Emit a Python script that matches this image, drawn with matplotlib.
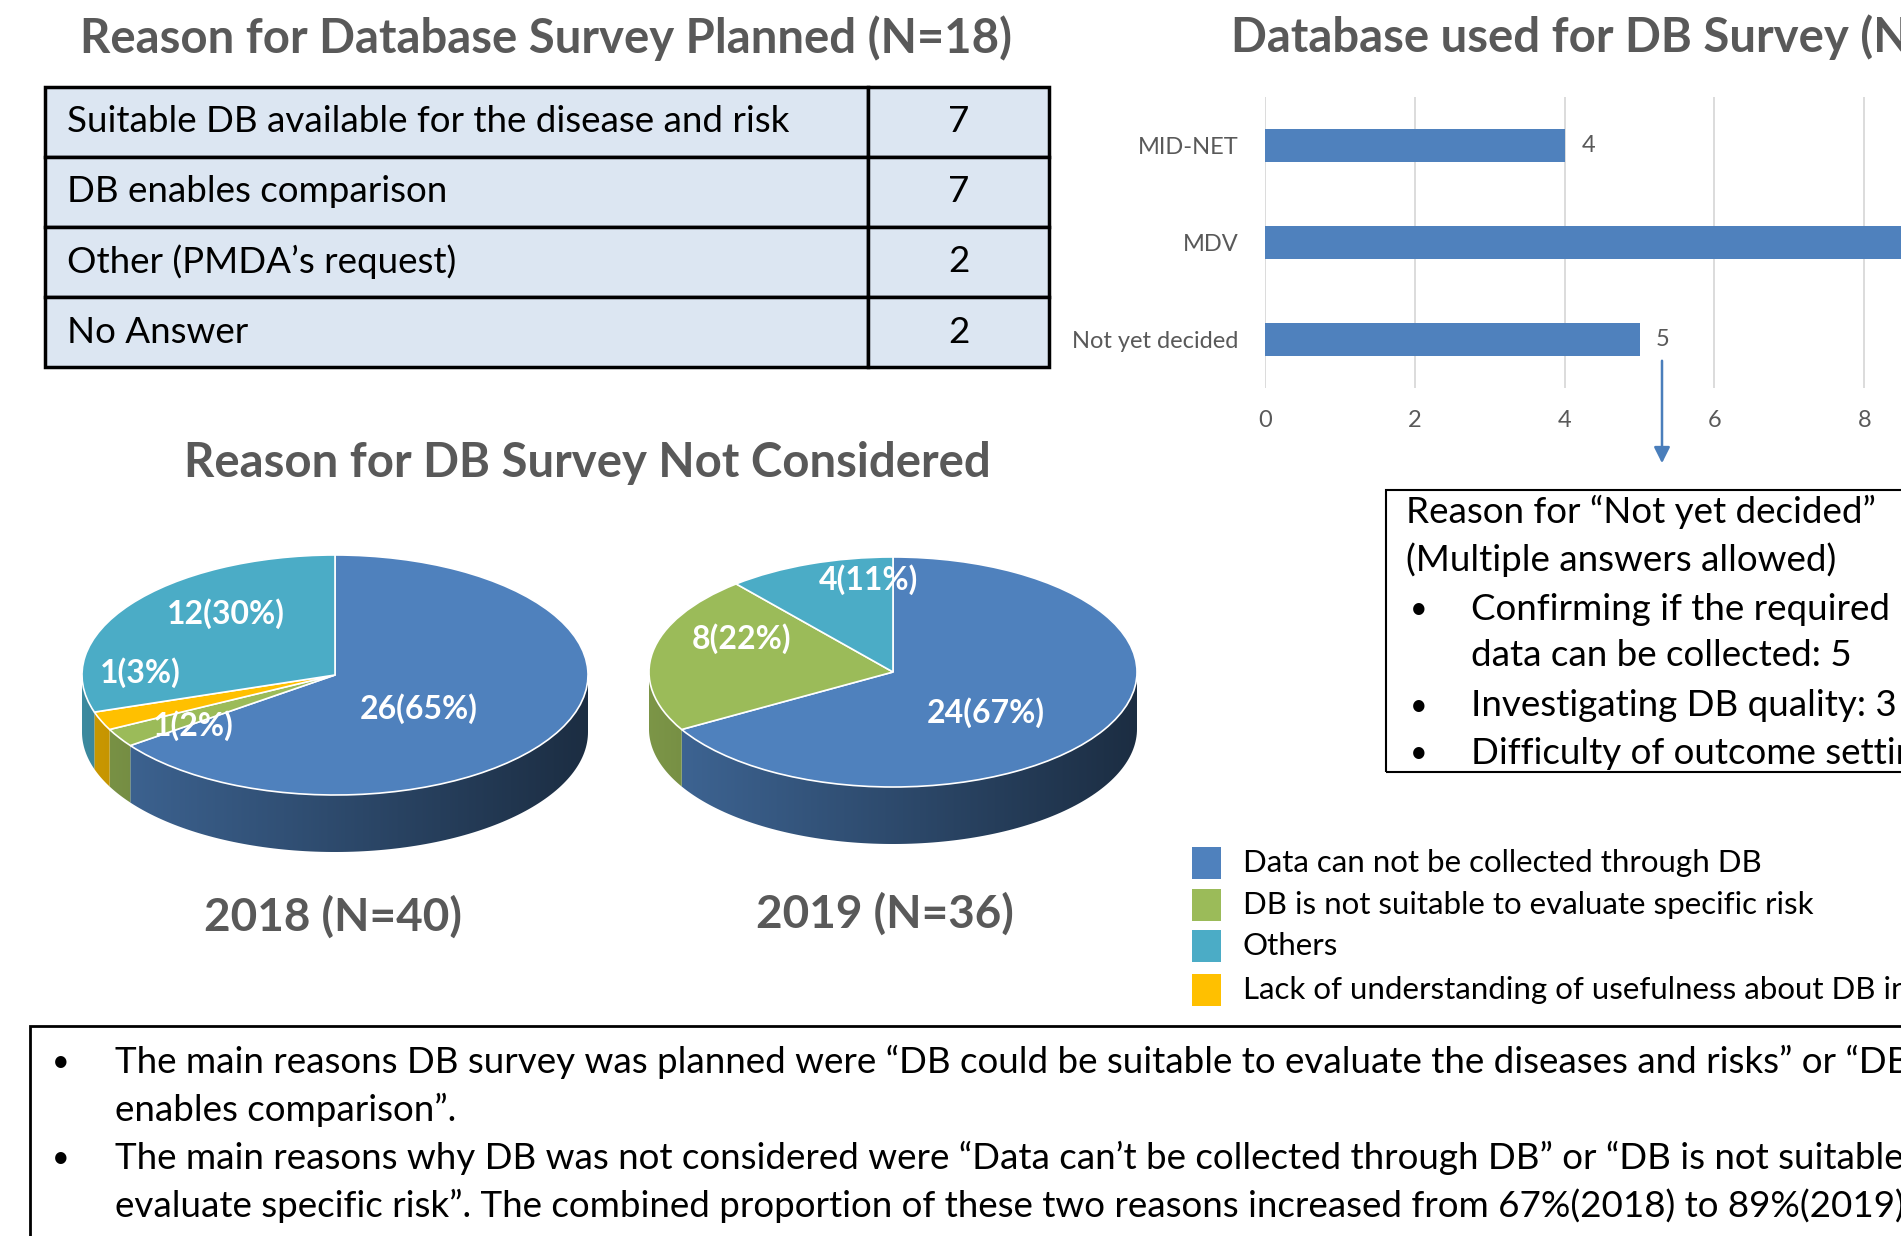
import numpy as np
import matplotlib
matplotlib.use("Agg")
import matplotlib.pyplot as plt
from matplotlib.patches import Rectangle, Polygon
from matplotlib.colors import to_rgb

plt.rcParams['font.family'] = ['Lato', 'DejaVu Sans']

###############################################################################
# Data

plan_reasons = ["Suitable DB available for the disease and risk",
                "DB enables comparison",
                "Other (PMDA’s request)",
                "No Answer"]
plan_counts = [7, 7, 2, 2]

db_names = ["MID-NET", "MDV", "Not yet decided"]
db_counts = [4, 9, 5]
db_ticks = [0, 2, 4, 6, 8, 10]

reasons = ["Data can not be collected through DB",
           "DB is not suitable to evaluate specific risk",
           "Others",
           "Lack of understanding of usefulness about DB investigation"]
BLUE, GREEN, TEAL, GOLD = "#4F81BD", "#9BBB59", "#4BACC6", "#FFC000"
reason_colors = [BLUE, GREEN, TEAL, GOLD]

# slices in clockwise order starting at 12 o'clock
pie18_counts = [26, 1, 1, 12]
pie18_pcts = [65, 2, 3, 30]
pie18_colors = [BLUE, GREEN, GOLD, TEAL]
pie19_counts = [24, 8, 4]
pie19_pcts = [67, 22, 11]
pie19_colors = [BLUE, GREEN, TEAL]

box_head = ["Reason for “Not yet decided”", "(Multiple answers allowed)"]
box_lines = ["Confirming if the required", "data can be collected: 5",
             "Investigating DB quality: 3", "Difficulty of outcome setting"]
box_bullet = [True, False, True, True]

summary = ["The main reasons DB survey was planned were “DB could be suitable to evaluate the diseases and risks” or “DB",
           "enables comparison”.",
           "The main reasons why DB was not considered were “Data can’t be collected through DB” or “DB is not suitable to",
           "evaluate specific risk”. The combined proportion of these two reasons increased from 67%(2018) to 89%(2019)."]

###############################################################################
# Layout helpers (pixel coords, origin top-left)

W, H = 1901, 1236
fig = plt.figure(figsize=(W / 100, H / 100), dpi=100)
GREY = "#595959"


def fx(x):
    return x / W


def fy(y):
    return 1 - y / H


def axes_px(x0, y0, x1, y1):
    return fig.add_axes([x0 / W, 1 - y1 / H, (x1 - x0) / W, (y1 - y0) / H])


def ftext(x, y, s, **kw):
    kw.setdefault('va', 'center')
    return fig.text(fx(x), fy(y), s, **kw)


###############################################################################
# Table

ftext(546, 38, "Reason for Database Survey Planned (N=18)", ha='center',
      fontsize=34, fontweight='bold', color=GREY)

tab = axes_px(45, 87, 1049, 367)
tab.set_xlim(0, 1)
tab.set_ylim(len(plan_reasons), 0)
tab.axis('off')
split = 0.82
for i, (r, c) in enumerate(zip(plan_reasons, plan_counts)):
    for x0, w in ((0, split), (split, 1 - split)):
        tab.add_patch(Rectangle((x0, i), w, 1, facecolor='#DCE6F2',
                                edgecolor='black', lw=2.5, clip_on=False))
    tab.text(0.022, i + 0.5, r, va='center', fontsize=26.5)
    tab.text((1 + split) / 2, i + 0.5, str(c), ha='center', va='center', fontsize=26.5)

###############################################################################
# Bar chart

ftext(1231, 37, "Database used for DB Survey (N=18)", ha='left',
      fontsize=34, fontweight='bold', color=GREY)

bar = axes_px(1265, 97, 2014, 388)
bars = bar.barh(range(len(db_names)), db_counts, height=0.35, color=BLUE, zorder=2)
bar.set_xlim(0, 10)
bar.set_ylim(2.5, -0.5)
bar.set_xticks(db_ticks)
bar.set_yticks(range(len(db_names)), db_names)
bar.grid(axis='x', color='#D9D9D9', lw=1.3)
bar.set_axisbelow(True)
for s in bar.spines.values():
    s.set_visible(False)
bar.tick_params(length=0, labelsize=17, labelcolor=GREY)
bar.tick_params(axis='y', pad=19)
bar.tick_params(axis='x', pad=16)
bar.bar_label(bars, padding=12, fontsize=17, color=GREY)

bar.annotate('', xy=(1662, H - 466), xytext=(1662, H - 358),
             xycoords='figure pixels', textcoords='figure pixels',
             arrowprops=dict(arrowstyle='-|>', color='#4A7EBB', lw=1.8,
                             mutation_scale=24), annotation_clip=False)

# box with reasons for "Not yet decided"
fig.add_artist(Rectangle((fx(1386), fy(772)), (2100 - 1386) / W, (772 - 490) / H,
                         transform=fig.transFigure, fill=False,
                         edgecolor='black', lw=1.5))
for y, s in zip([512, 560], box_head):
    ftext(1406, y, s, fontsize=26.5)
for y, s, b in zip([609, 656, 706, 753], box_lines, box_bullet):
    if b:
        ftext(1410, y, "•", fontsize=22)
    ftext(1471, y, s, fontsize=26.5)

###############################################################################
# Pies

ftext(587, 463, "Reason for DB Survey Not Considered", ha='center',
      fontsize=34, fontweight='bold', color=GREY)


def draw_pie(box, counts, pcts, colors, depth, label_pos):
    ax = axes_px(*box)
    wedges, _ = ax.pie(counts, colors=colors, startangle=90, counterclock=False,
                       radius=1, wedgeprops=dict(edgecolor='white', linewidth=1.2))
    for w in wedges:
        w.set_zorder(3)
        w.set_clip_on(False)
    # side wall: darker shade of each slice, fading to the right
    gx = np.linspace(-1, 1, 400)
    shade = 0.80 - 0.45 * (gx + 1) / 2
    for w, col in zip(wedges, colors):
        t1, t2 = w.theta1, w.theta2
        for k in (-360, 0, 360):
            lo, hi = max(t1, 180 + k), min(t2, 360 + k)
            if lo >= hi:
                continue
            t = np.radians(np.linspace(lo, hi, 120))
            top = np.column_stack([np.cos(t), np.sin(t)])
            bot = np.column_stack([np.cos(t[::-1]), np.sin(t[::-1]) - depth])
            poly = Polygon(np.vstack([top, bot]), facecolor='none', edgecolor='none')
            ax.add_patch(poly)
            img = shade[None, :, None] * np.array(to_rgb(col))[None, None, :]
            im = ax.imshow(img, extent=(-1, 1, -1 - depth, 1), aspect='auto', zorder=1)
            im.set_clip_path(poly)
    for (x, y), c, p in zip(label_pos, counts, pcts):
        ax.text(x, y, f"{c}({p}%)", color='white', fontsize=23, fontweight='bold',
                ha='center', va='center', zorder=5)
    ax.set_aspect('auto')
    ax.set_xlim(-1, 1)
    ax.set_ylim(-1 - depth, 1)
    ax.axis('off')
    return ax


draw_pie((82, 555, 588, 852), pie18_counts, pie18_pcts, pie18_colors, 57 / 120,
         [(0.33, -0.28), (-0.56, -0.42), (-0.77, 0.02), (-0.43, 0.51)])
draw_pie((649, 557, 1137, 844), pie19_counts, pie19_pcts, pie19_colors, 57 / 115,
         [(0.38, -0.35), (-0.62, 0.29), (-0.10, 0.80)])

ftext(333, 917, "2018 (N=40)", ha='center', fontsize=33, fontweight='bold', color=GREY)
ftext(885, 914, "2019 (N=36)", ha='center', fontsize=33, fontweight='bold', color=GREY)

# legend
leg_y = [863, 905, 946, 990]
for y, lab, col in zip(leg_y, reasons, reason_colors):
    fig.add_artist(Rectangle((fx(1192), fy(y + 16)), 29 / W, 32 / H,
                             transform=fig.transFigure, facecolor=col, edgecolor='none'))
    ftext(1243, y, lab, fontsize=22.5)

###############################################################################
# Summary box

fig.add_artist(Rectangle((fx(30), fy(1400)), (2100 - 30) / W, (1400 - 1026) / H,
                         transform=fig.transFigure, fill=False, edgecolor='black', lw=2))
line_y = [1062, 1110, 1158, 1206]
for i, (y, s) in enumerate(zip(line_y, summary)):
    if i % 2 == 0:
        ftext(52, y, "•", fontsize=22)
    ftext(115, y, s, fontsize=26.5)

fig.savefig("out.png", dpi=100)
